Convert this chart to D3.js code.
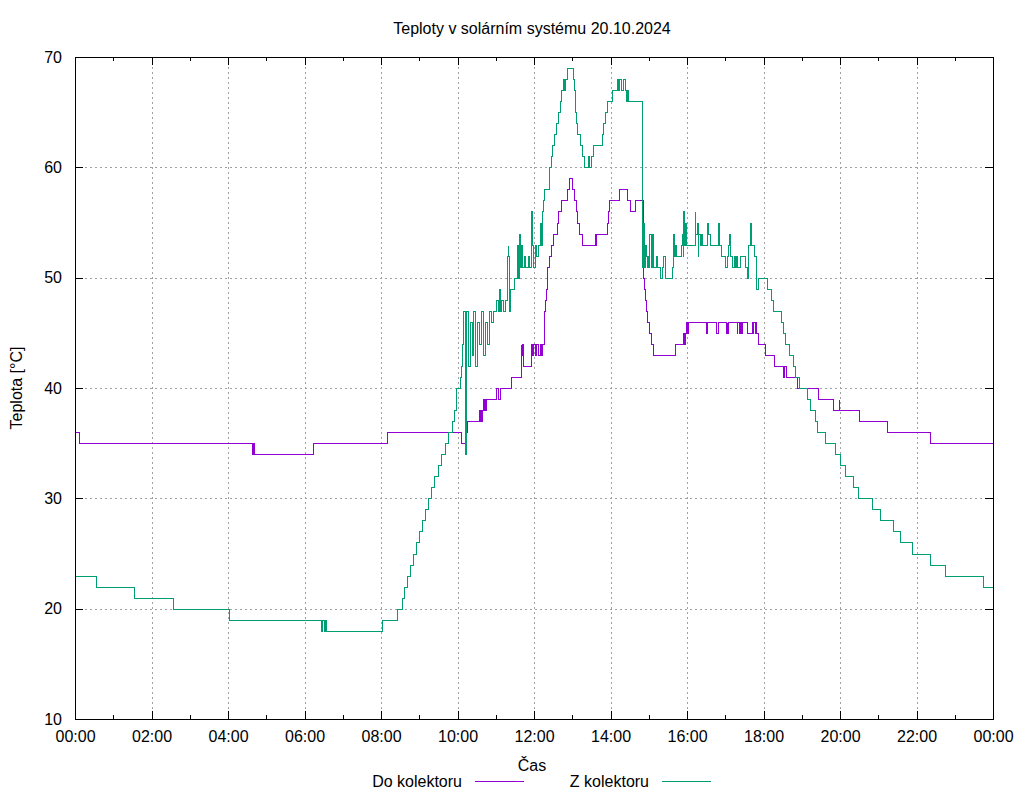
<!DOCTYPE html>
<html><head><meta charset="utf-8">
<script src="https://cdn.jsdelivr.net/npm/d3@7"></script>
<style>
html,body{margin:0;padding:0;background:#fff;}
text{font-family:"Liberation Sans",Arial,sans-serif;fill:#000;}
</style></head>
<body>
<svg id="chart" width="1024" height="800"></svg>
<script>
// ---- data (time in minutes since midnight, temperature in °C) ----
const chartTitle = "Teploty v solárním systému 20.10.2024";
const xLabel = "Čas";
const yLabel = "Teplota [°C]";
const seriesNames = ["Do kolektoru", "Z kolektoru"];
const xTickMinutes = [0,120,240,360,480,600,720,840,960,1080,1200,1320,1440];
const xTickLabels = ["00:00","02:00","04:00","06:00","08:00","10:00","12:00","14:00","16:00","18:00","20:00","22:00","00:00"];
const xMinorMinutes = [60,180,300,420,540,660,780,900,1020,1140,1260,1380];
const yTicks = [10,20,30,40,50,60,70];

const doKolektoru = [[0,36],[6,35],[277,34],[279,35],[281,34],[373,35],[489,36],[606,35],[611,36],[613,37],[614,36],[615,37],
[634,38],[635,37],[636,38],[637,37],[638,38],[640,39],[641,38],[642,39],[643,38],[645,39],[660,40],[664,39],[666,40],[684,41],
[699,44],[700,43],[701,44],[702,42],[715,44],[717,43],[718,44],[722,43],[723,44],[727,43],[729,44],[731,43],[732,44],[735,45],
[736,47],[738,48],[739,49],[741,51],[743,52],[747,53],[750,54],[756,55],[758,56],[762,57],[771,58],[775,59],[780,58],[783,57],
[786,56],[788,55],[790,54],[795,53],[816,54],[817,53],[818,54],[834,55],[836,56],[838,57],[853,58],[866,57],[871,56],[878,57],
[891,50],[893,49],[894,48],[896,47],[898,46],[900,45],[903,44],[906,43],[941,44],[954,45],[956,44],[957,45],[959,46],[960,45],
[962,46],[990,45],[991,46],[1006,45],[1008,46],[1021,45],[1022,46],[1023,45],[1024,46],[1038,45],[1039,46],[1041,45],[1043,46],
[1045,45],[1046,46],[1054,45],[1062,46],[1063,45],[1064,46],[1066,45],[1067,46],[1068,45],[1071,44],[1083,43],[1096,42],
[1110,41],[1112,42],[1115,41],[1133,40],[1165,39],[1189,38],[1198,39],[1199,38],[1230,37],[1274,36],[1341,35],[1440,35]];

const zKolektoru = [[0,23],[33,22],[93,21],[154,20],[242,19],[386,18],[388,19],[390,18],[392,19],[394,18],[481,19],[505,20],
[513,21],[516,22],[521,23],[525,24],[530,25],[535,26],[540,27],[544,28],[549,29],[554,30],[558,31],[563,32],[569,33],[574,34],
[580,35],[585,36],[591,37],[594,38],[598,40],[604,41],[605,42],[607,44],[609,47],[612,34],[613,37],[614,47],[616,42],[619,46],
[622,43],[625,47],[628,42],[631,46],[634,44],[637,47],[640,43],[643,46],[646,44],[649,47],[652,46],[656,47],[660,48],[664,47],
[665,49],[667,47],[669,48],[671,47],[674,48],[678,52],[679,53],[680,52],[681,47],[683,49],[689,50],[694,53],[695,50],[697,54],
[698,51],[700,53],[701,51],[704,52],[706,51],[710,52],[712,51],[716,56],[717,53],[719,51],[721,53],[723,52],[727,53],
[730,55],[731,53],[733,56],[734,57],[736,58],[743,59],[744,60],[746,61],[748,62],[751,63],[754,64],[757,65],[760,66],[763,67],
[766,68],[767,67],[769,68],[772,69],[781,68],[783,67],[784,66],[785,65],[786,64],[787,63],[792,62],[795,61],[798,60],[805,61],
[807,60],[809,61],[813,62],[826,63],[829,64],[832,65],[835,66],[843,67],[850,68],[852,67],[854,68],[857,67],[859,68],[862,67],
[865,66],[866,67],[868,66],[890,51],[891,55],[892,51],[894,53],[895,52],[897,51],[899,52],[900,51],[901,54],[903,51],
[905,54],[907,51],[911,52],[913,51],[918,50],[920,51],[923,52],[925,50],[936,51],[938,54],[939,52],[941,53],[943,52],
[950,53],[952,54],[953,52],[954,56],[955,53],[957,55],[958,53],[972,56],[973,54],[975,55],[977,52],[978,54],[980,53],[982,54],
[983,53],[991,55],[993,54],[996,53],[1008,55],[1010,53],[1013,52],[1020,51],[1023,52],[1025,53],[1026,54],[1028,52],[1030,51],
[1033,52],[1035,51],[1037,52],[1039,51],[1043,52],[1051,51],[1054,50],[1055,51],[1056,53],[1059,55],[1061,53],[1065,52],
[1068,49],[1071,50],[1085,49],[1091,48],[1095,47],[1107,46],[1110,45],[1114,44],[1120,43],[1127,42],[1130,41],[1136,40],
[1149,39],[1153,38],[1161,37],[1164,36],[1176,35],[1192,34],[1200,33],[1208,32],[1220,31],[1228,30],[1250,29],[1263,28],
[1283,27],[1294,26],[1313,25],[1341,24],[1365,23],[1424,22],[1440,22]];

const seriesColors = ["#9400d3", "#009e73"];

// ---- drawing ----
const svg = d3.select("#chart");
const L = 75, R = 993, T = 57, B = 719;
const x = d3.scaleLinear().domain([0,1440]).range([L,R]);
const y = d3.scaleLinear().domain([10,70]).range([B,T]);

svg.append("rect").attr("width",1024).attr("height",800).attr("fill","#fff");

// grid
const grid = svg.append("g").attr("stroke","#a0a0a0").attr("stroke-width",1)
  .attr("stroke-dasharray","2,3").attr("shape-rendering","crispEdges");
grid.selectAll(".gx").data(xTickMinutes.slice(1,-1)).join("line").attr("class","gx")
  .attr("x1",d=>Math.round(x(d))+0.5).attr("x2",d=>Math.round(x(d))+0.5).attr("y1",T).attr("y2",B);
grid.selectAll(".gy").data(yTicks.slice(1,-1)).join("line").attr("class","gy")
  .attr("y1",d=>Math.round(y(d))+0.5).attr("y2",d=>Math.round(y(d))+0.5).attr("x1",L).attr("x2",R);

// axes
function styleAxis(g){
  g.select(".domain").remove();
  g.selectAll(".tick line").attr("stroke","#000").attr("shape-rendering","crispEdges");
  g.selectAll(".tick text").attr("font-size","16px").attr("font-family","Liberation Sans, Arial, sans-serif").attr("fill","#000");
}
svg.append("g").attr("transform",`translate(0,${B})`)
  .call(d3.axisBottom(x).tickValues(xTickMinutes).tickFormat((d,i)=>xTickLabels[i]).tickSize(-8).tickPadding(12))
  .call(styleAxis);
svg.append("g").attr("transform",`translate(0,${B})`)
  .call(d3.axisBottom(x).tickValues(xMinorMinutes).tickFormat("").tickSize(-4)).call(styleAxis);
svg.append("g").attr("transform",`translate(0,${T})`)
  .call(d3.axisTop(x).tickValues(xTickMinutes).tickFormat("").tickSize(-8)).call(styleAxis);
svg.append("g").attr("transform",`translate(0,${T})`)
  .call(d3.axisTop(x).tickValues(xMinorMinutes).tickFormat("").tickSize(-4)).call(styleAxis);
svg.append("g").attr("transform",`translate(${L},0)`)
  .call(d3.axisLeft(y).tickValues(yTicks).tickFormat(d3.format("d")).tickSize(-8).tickPadding(13))
  .call(styleAxis);
svg.append("g").attr("transform",`translate(${R},0)`)
  .call(d3.axisRight(y).tickValues(yTicks).tickFormat("").tickSize(-8)).call(styleAxis);

// series
const line = d3.line().x(d=>Math.round(x(d[0]))+0.5).y(d=>Math.round(y(d[1]))+0.5).curve(d3.curveStepAfter);
const allSeries = [doKolektoru, zKolektoru];
allSeries.forEach((s,i)=>{
  svg.append("path").datum(s).attr("d",line).attr("fill","none")
    .style("stroke",seriesColors[i]).attr("stroke-width",1).attr("shape-rendering","crispEdges");
});

// border
svg.append("rect").attr("x",L+0.5).attr("y",T+0.5).attr("width",R-L).attr("height",B-T)
  .attr("fill","none").attr("stroke","#000").attr("stroke-width",1).attr("shape-rendering","crispEdges");

// texts
svg.append("text").attr("x",532).attr("y",34).attr("text-anchor","middle").attr("font-size","16px").text(chartTitle);
svg.append("text").attr("x",532).attr("y",771).attr("text-anchor","middle").attr("font-size","16px").text(xLabel);
svg.append("text").attr("transform","translate(22,388) rotate(-90)").attr("text-anchor","middle").attr("font-size","16px").text(yLabel);

// legend
const legendX = [462, 649];
const legend = svg.append("g");
legend.selectAll("text.lt").data(seriesNames).join("text").attr("class","lt")
  .attr("x",(d,i)=>legendX[i]).attr("y",787).attr("text-anchor","end").attr("font-size","16px").text(d=>d);
legend.selectAll("rect.ls").data(seriesNames).join("rect").attr("class","ls")
  .attr("x",(d,i)=>legendX[i]+13).attr("y",781).attr("width",49).attr("height",1)
  .style("fill",(d,i)=>seriesColors[i]);
</script>
</body></html>
